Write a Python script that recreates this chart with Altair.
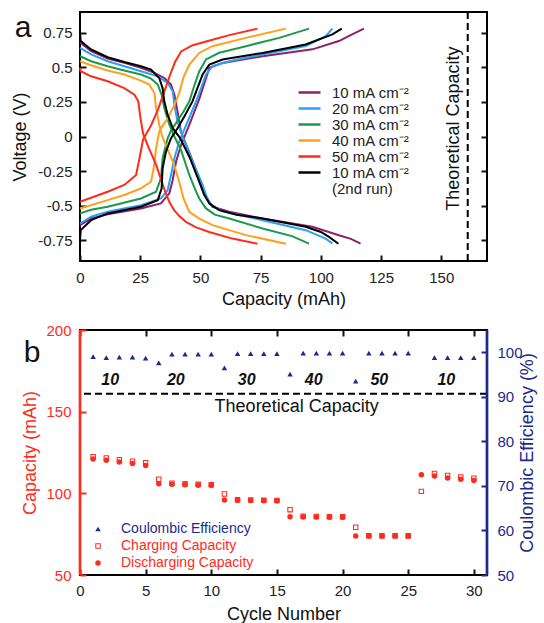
import altair as alt
import pandas as pd

FONT = "Liberation Sans"
RED = "#ff2b1c"
NAVY = "#1b2a8c"

# ---------------- panel a : charge / discharge curves ----------------
series_keys = ["10a", "20", "30", "40", "50", "10b"]
series_colors = ["#8c2266", "#2b9ef5", "#1b9a4b", "#ffa01c", "#ff2b1c", "#000000"]

# 10 mA cm-2
p10_dis_cap = [0, 4.6, 11.5, 18.4, 25.3, 30.9, 35, 37.8, 39.2, 40.5, 41.9, 45.5, 49.5, 52.5, 55, 62, 75.8, 96.5, 107.5, 112.5, 116.5]
p10_dis_v = [0.68, 0.617, 0.564, 0.532, 0.496, 0.46, 0.423, 0.375, 0.302, 0.18, 0.036, -0.12, -0.3, -0.44, -0.508, -0.544, -0.593, -0.653, -0.714, -0.74, -0.774]
p10_ch_cap = [0, 4.6, 11.5, 25.3, 33.6, 37.1, 38.5, 39.9, 42, 45.5, 49.5, 52.5, 53.7, 59.2, 75.8, 96.5, 107.5, 113, 117.9]
p10_ch_v = [-0.641, -0.593, -0.563, -0.52, -0.484, -0.411, -0.314, -0.181, -0.06, 0.09, 0.27, 0.43, 0.496, 0.532, 0.58, 0.63, 0.69, 0.738, 0.78]
# 20 mA cm-2
p20_dis_cap = [0, 4.6, 11.5, 18.4, 25.3, 32.3, 36.4, 38.5, 39.2, 40.5, 42.6, 46.5, 50.9, 52.5, 54.4, 59.2, 75.8, 93.7, 102, 104.8]
p20_dis_v = [0.64, 0.593, 0.544, 0.508, 0.472, 0.435, 0.387, 0.327, 0.23, 0.109, 0.0, -0.17, -0.35, -0.43, -0.496, -0.54, -0.605, -0.677, -0.738, -0.774]
p20_ch_cap = [0, 4.6, 11.5, 25.3, 33.6, 36.4, 37.8, 39.2, 41.2, 44.5, 48.2, 50.3, 52.3, 55, 62, 75.8, 93.7, 102, 104.8]
p20_ch_v = [-0.629, -0.58, -0.544, -0.496, -0.448, -0.387, -0.278, -0.157, -0.036, 0.1, 0.254, 0.35, 0.448, 0.508, 0.544, 0.593, 0.653, 0.726, 0.78]
# 30 mA cm-2
p30_dis_cap = [0, 4.6, 11.5, 18.4, 25.3, 29.5, 32.3, 33.9, 35, 37.1, 39.2, 42, 45.4, 47.5, 49.5, 52.3, 56, 62, 75.8, 88, 95.1]
p30_dis_v = [0.58, 0.544, 0.508, 0.477, 0.448, 0.418, 0.375, 0.302, 0.206, 0.085, 0.0, -0.1, -0.278, -0.37, -0.448, -0.52, -0.565, -0.593, -0.665, -0.72, -0.775]
p30_ch_cap = [0, 4.6, 11.5, 25.3, 31.6, 33.6, 34.3, 36.4, 38, 40, 43, 45.4, 47.5, 49.5, 52.3, 57.8, 68.9, 82.7, 95.1]
p30_ch_v = [-0.556, -0.53, -0.508, -0.448, -0.399, -0.302, -0.157, -0.012, 0.05, 0.1, 0.18, 0.254, 0.37, 0.47, 0.557, 0.605, 0.653, 0.713, 0.78]
# 40 mA cm-2
p40_dis_cap = [0, 4.6, 11.5, 18.4, 25.3, 28.8, 30.9, 31.6, 32.9, 34, 36, 39, 41.2, 43, 45.4, 49.5, 55, 68.9, 85.5]
p40_dis_v = [0.544, 0.515, 0.477, 0.448, 0.404, 0.375, 0.314, 0.206, 0.085, 0.01, -0.08, -0.2, -0.327, -0.45, -0.544, -0.593, -0.641, -0.713, -0.775]
p40_ch_cap = [0, 11.5, 18.4, 25.3, 29.5, 30.6, 31.6, 32.9, 34, 36, 39, 41.2, 43, 45.4, 49.5, 55, 68.9, 85.5]
p40_ch_v = [-0.52, -0.46, -0.423, -0.375, -0.327, -0.23, -0.085, 0.036, 0.07, 0.12, 0.22, 0.314, 0.43, 0.52, 0.604, 0.653, 0.713, 0.78]
# 50 mA cm-2
p50_dis_cap = [0, 0.3, 4.6, 11.5, 18.4, 22.6, 24.2, 25.1, 26.2, 28.5, 31.5, 35, 37, 39, 41.2, 44, 48, 53.6, 63.3, 73.7]
p50_dis_v = [0.496, 0.472, 0.435, 0.399, 0.35, 0.302, 0.254, 0.133, 0.02, -0.08, -0.2, -0.38, -0.47, -0.53, -0.575, -0.617, -0.655, -0.69, -0.738, -0.775]
p50_ch_cap = [0, 11.5, 18.4, 23.3, 24.7, 26.2, 29.5, 32.5, 35.5, 37.5, 39.5, 42, 46.8, 55, 62, 73.7]
p50_ch_v = [-0.472, -0.399, -0.35, -0.278, -0.157, -0.02, 0.08, 0.2, 0.35, 0.45, 0.54, 0.615, 0.66, 0.70, 0.733, 0.78]
# 10 mA cm-2 (2nd run)
p10b_dis_cap = [0, 0.3, 4.6, 11.5, 18.4, 25.3, 29.5, 32.9, 34.3, 35, 36.4, 38.5, 41.5, 45.5, 49.5, 51.5, 53.7, 57.8, 65, 75.8, 93.7, 100, 103.4, 107.3]
p10b_dis_v = [0.75, 0.69, 0.629, 0.573, 0.539, 0.508, 0.484, 0.423, 0.35, 0.254, 0.157, 0.06, -0.01, -0.15, -0.327, -0.42, -0.484, -0.532, -0.565, -0.593, -0.653, -0.69, -0.726, -0.775]
p10b_ch_cap = [0, 0.3, 4.6, 11.5, 25.3, 32.3, 33.9, 34.3, 35.7, 37.8, 40.5, 43.5, 46.7, 50.9, 53.7, 59.2, 75.8, 93.7, 104.8, 108.7]
p10b_ch_v = [-0.75, -0.677, -0.605, -0.556, -0.508, -0.46, -0.375, -0.23, -0.109, -0.012, 0.06, 0.15, 0.254, 0.448, 0.52, 0.557, 0.604, 0.665, 0.738, 0.78]

theo_cap = [161]
theo_a_label_cap = [155.3]
theo_a_label_v = [0.057]

curve_sets = [
    ("10a", p10_dis_cap, p10_dis_v, p10_ch_cap, p10_ch_v),
    ("20", p20_dis_cap, p20_dis_v, p20_ch_cap, p20_ch_v),
    ("30", p30_dis_cap, p30_dis_v, p30_ch_cap, p30_ch_v),
    ("40", p40_dis_cap, p40_dis_v, p40_ch_cap, p40_ch_v),
    ("50", p50_dis_cap, p50_dis_v, p50_ch_cap, p50_ch_v),
    ("10b", p10b_dis_cap, p10b_dis_v, p10b_ch_cap, p10b_ch_v),
]
rows = []
for k, (key, dc, dv, cc, cv) in enumerate(curve_sets):
    for i, (c, v) in enumerate(zip(dc, dv)):
        rows.append({"series": key, "branch": key + "d", "cap": c, "v": v, "idx": i, "z": k})
    for i, (c, v) in enumerate(zip(cc, cv)):
        rows.append({"series": key, "branch": key + "c", "cap": c, "v": v, "idx": i, "z": k})
curves = pd.DataFrame(rows)

# ---------------- panel b : cycling ----------------
cycles = list(range(1, 31))
charging = [122.4, 121.6, 120.6, 119.6, 118.8, 108.6, 106.2, 105.8, 105.5, 105.3, 99.6, 96.1, 96.0, 95.7, 95.6, 90.0, 86.0, 85.8, 85.7, 85.6, 79.2, 74.0, 74.0, 74.0, 74.0, 101.2, 112.2, 111.0, 110.0, 109.2]
discharging = [121.0, 120.2, 119.2, 118.2, 117.1, 105.9, 105.5, 105.3, 105.0, 104.9, 95.9, 95.8, 95.6, 95.5, 95.4, 85.7, 85.5, 85.5, 85.4, 85.4, 73.9, 73.9, 73.8, 73.8, 73.8, 111.4, 110.6, 109.4, 108.6, 107.8]
ce_cycles = [1, 2, 3, 4, 5, 6, 7, 8, 9, 10, 11, 12, 13, 14, 15, 16, 17, 18, 19, 20, 21, 22, 23, 24, 25, 27, 28, 29, 30]
ce = [99.0, 98.8, 98.9, 98.9, 98.7, 97.6, 99.6, 99.6, 99.6, 99.6, 96.5, 99.7, 99.7, 99.7, 99.7, 95.1, 99.8, 99.8, 99.8, 99.8, 93.5, 99.8, 99.8, 99.8, 99.8, 98.8, 98.8, 98.8, 98.8]
rate_labels = ["10", "20", "30", "40", "50", "10"]
rate_label_cycle = [2.3, 7.3, 12.7, 17.8, 22.8, 27.9]
rate_label_cap = [169.6] * 6
theo_b_label_cycle = [16.5]
theo_b_label_cap = [152.8]

S_CE, S_CH, S_DIS = "Coulombic Efficiency", "Charging Capacity", "Discharging Capacity"

# ---------------- geometry ----------------
W_A, H_A = 407, 249
W_B, H_B = 407, 245
TK = 6

# ---------------- panel a ----------------
xa = alt.X("cap:Q", scale=alt.Scale(domain=[0, 169], nice=False, zero=False),
           axis=alt.Axis(values=[0, 25, 50, 75, 100, 125, 150], title="Capacity (mAh)",
                         offset=-TK, tickSize=TK, domain=False, grid=False, labelPadding=9,
                         titlePadding=5, labelFlush=False, labelOverlap=False))
ya_scale = alt.Scale(domain=[-0.9, 0.9], nice=False, zero=False)
ya_vals = [-0.75, -0.5, -0.25, 0, 0.25, 0.5, 0.75]
ya = alt.Y("v:Q", scale=ya_scale,
           axis=alt.Axis(values=ya_vals, title="Voltage (V)", offset=-TK, tickSize=TK,
                         domain=False, grid=False, labelPadding=8, titlePadding=8,
                         labelExpr="'' + datum.value", labelOverlap=False, labelFlush=False))
ya_right = alt.Y("v:Q", scale=ya_scale,
                 axis=alt.Axis(orient="right", values=ya_vals, title=None, labels=False,
                               offset=-TK, tickSize=TK, domain=False, grid=False))

label_expr_a = ("datum.label == 'run2' ? '(2nd run)' : "
                "((datum.label == '10a' || datum.label == '10b') ? '10 mA cm⁻²' : datum.label + ' mA cm⁻²')")
legend_a = alt.Legend(title=None, orient="none", legendX=222, legendY=73, padding=0,
                      symbolType="M-2.2,0H2.2", symbolSize=100, symbolStrokeWidth=2.5,
                      labelFontSize=15, labelFont=FONT, labelColor="#222222", rowPadding=-2,
                      labelOffset=15, labelExpr=label_expr_a)

lines = alt.Chart(curves).mark_line(strokeWidth=2).encode(
    x=xa, y=ya,
    color=alt.Color("series:N",
                    scale=alt.Scale(domain=series_keys + ["run2"],
                                    range=series_colors + ["rgba(0,0,0,0)"]),
                    legend=legend_a),
    detail="branch:N",
    order="idx:Q",
)
right_ticks_a = alt.Chart(curves).mark_point(opacity=0).encode(x=xa, y=ya_right)
theo_rule_a = alt.Chart(pd.DataFrame({"cap": theo_cap})).mark_rule(
    color="black", strokeWidth=2, strokeDash=[7, 4]).encode(x=xa)
theo_text_a = alt.Chart(pd.DataFrame({"cap": theo_a_label_cap, "v": theo_a_label_v,
                                      "t": ["Theoretical Capacity"]})).mark_text(
    angle=270, fontSize=18, font=FONT, color="#111111", align="center", baseline="middle").encode(
    x=xa, y=alt.Y("v:Q", scale=ya_scale, axis=None), text="t:N")
letter_a = alt.Chart(pd.DataFrame({"t": ["a"]})).mark_text(
    fontSize=30, font=FONT, color="#111111", align="center", baseline="alphabetic").encode(
    x=alt.value(-57), y=alt.value(25), text="t:N")

panel_a = alt.layer(lines, right_ticks_a, theo_rule_a, theo_text_a, letter_a).resolve_scale(
    y="independent").properties(width=W_A, height=H_A)

# ---------------- panel b ----------------
cap_df = pd.DataFrame({
    "cycle": cycles + cycles,
    "cap": charging + discharging,
    "series": [S_CH] * len(cycles) + [S_DIS] * len(cycles),
})
ce_df = pd.DataFrame({"cycle": ce_cycles, "ce": ce, "series": [S_CE] * len(ce_cycles)})

bx_scale = alt.Scale(domain=[0, 31], nice=False, zero=False)
bx_vals = [0, 5, 10, 15, 20, 25, 30]
bx = alt.X("cycle:Q", scale=bx_scale,
           axis=alt.Axis(values=bx_vals, title="Cycle Number", offset=-TK, tickSize=TK,
                         domain=False, grid=False, labelPadding=8, titlePadding=7,
                         labelFlush=False, labelOverlap=False))
bx_top = alt.X("cycle:Q", scale=bx_scale,
               axis=alt.Axis(orient="top", values=bx_vals, title=None, labels=False,
                             offset=-TK, tickSize=TK, domain=False, grid=False))
by_scale = alt.Scale(domain=[50, 200], nice=False, zero=False)
by = alt.Y("cap:Q", scale=by_scale,
           axis=alt.Axis(values=[50, 100, 150, 200], title="Capacity (mAh)", offset=-TK,
                         tickSize=TK, domain=False, grid=False, labelColor=RED, titleColor=RED,
                         tickColor=RED, labelPadding=9, titlePadding=6, labelOverlap=False,
                         labelFlush=False))
ce_y = alt.Y("ce:Q", scale=alt.Scale(domain=[50, 105], nice=False, zero=False),
             axis=alt.Axis(orient="right", values=[50, 60, 70, 80, 90, 100],
                           title="Coulombic Efficiency (%)", offset=-TK, tickSize=TK,
                           domain=False, grid=False, labelColor=NAVY, titleColor=NAVY,
                           tickColor=NAVY, labelPadding=10, titlePadding=14, titleAngle=270,
                           labelOverlap=False, labelFlush=False))

# hollow square drawn as a filled ring (outer clockwise, inner counter-clockwise)
HOLLOW_SQUARE = "M-1,-1H1V1H-1Z M-0.62,-0.62V0.62H0.62V-0.62Z"
sym_col = f"datum.value === '{S_CE}' ? '{NAVY}' : '{RED}'"
legend_b = alt.Legend(title=None, orient="none", legendX=11, legendY=192, padding=0,
                      labelFontSize=14, labelFont=FONT, symbolSize=30, rowPadding=3,
                      labelOffset=16, symbolStrokeWidth=0,
                      labelColor=alt.ExprRef(sym_col))
ser_domain = [S_CE, S_CH, S_DIS]
color_b = alt.Color("series:N", scale=alt.Scale(domain=ser_domain, range=[NAVY, RED, RED]),
                    legend=legend_b)
shape_b = alt.Shape("series:N", scale=alt.Scale(domain=ser_domain,
                                                range=["triangle-up", HOLLOW_SQUARE, "circle"]),
                    legend=legend_b)

charge_pts = alt.Chart(cap_df).transform_filter(
    alt.datum.series == S_CH).mark_point(filled=True, size=30, strokeWidth=0, opacity=1).encode(
    x=bx, y=by, color=color_b, shape=shape_b)
dis_pts = alt.Chart(cap_df).transform_filter(
    alt.datum.series == S_DIS).mark_point(filled=True, size=30, strokeWidth=0, opacity=1).encode(
    x=bx, y=by, color=color_b, shape=shape_b)
theo_rule_b = alt.Chart(pd.DataFrame({"cap": theo_cap})).mark_rule(
    color="black", strokeWidth=2, strokeDash=[7, 4]).encode(y=by)
theo_text_b = alt.Chart(pd.DataFrame({"cycle": theo_b_label_cycle, "cap": theo_b_label_cap,
                                      "t": ["Theoretical Capacity"]})).mark_text(
    fontSize=18, font=FONT, color="#111111", align="center", baseline="middle").encode(
    x=bx, y=by, text="t:N")
rate_text = alt.Chart(pd.DataFrame({"cycle": rate_label_cycle, "cap": rate_label_cap,
                                    "t": rate_labels})).mark_text(
    fontSize=16, font=FONT, fontStyle="italic", fontWeight="bold", color="#111111",
    align="center", baseline="middle").encode(x=bx, y=by, text="t:N")
edge_one = pd.DataFrame({"k": [0]})
left_edge = alt.Chart(edge_one).mark_rule(color=RED, strokeWidth=2.7).encode(
    x=alt.value(0), y=alt.value(0), y2=alt.value(H_B))
right_edge = alt.Chart(edge_one).mark_rule(color=NAVY, strokeWidth=2.7).encode(
    x=alt.value(W_B), y=alt.value(0), y2=alt.value(H_B))
letter_b = alt.Chart(pd.DataFrame({"t": ["b"]})).mark_text(
    fontSize=30, font=FONT, color="#111111", align="center", baseline="alphabetic").encode(
    x=alt.value(-48), y=alt.value(32), text="t:N")

left_group = alt.layer(charge_pts, dis_pts, theo_rule_b, theo_text_b, rate_text,
                       left_edge, right_edge, letter_b)
ce_pts = alt.Chart(ce_df).mark_point(filled=True, size=30, strokeWidth=0, opacity=1).encode(
    x=bx_top, y=ce_y, color=color_b, shape=shape_b)

panel_b = alt.layer(left_group, ce_pts).resolve_scale(
    y="independent", x="independent").properties(width=W_B, height=H_B)

chart = alt.vconcat(panel_a, panel_b, spacing=13).resolve_scale(
    color="independent", shape="independent").resolve_legend(
    color="independent", shape="independent").properties(
    padding={"left": 10, "top": 10, "right": 0, "bottom": 0},
    background="white",
).configure_view(stroke="black", strokeWidth=2).configure_axis(
    labelFont=FONT, titleFont=FONT, labelFontSize=15, titleFontSize=18,
    titleFontWeight="normal", labelColor="#222222", titleColor="#111111",
    tickColor="#111111", tickWidth=2)

chart.save("out.html", embed_options={"renderer": "svg", "actions": False})
